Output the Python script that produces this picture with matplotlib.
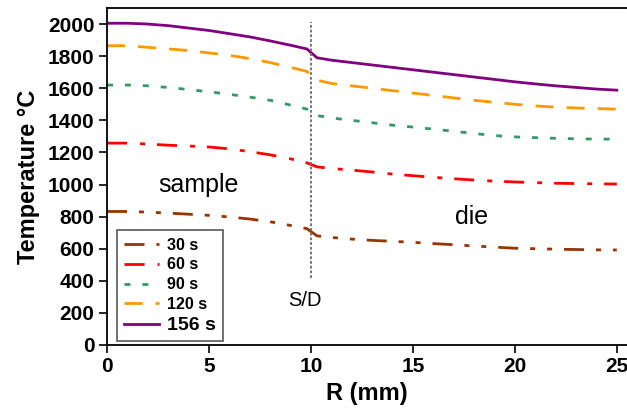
import matplotlib
matplotlib.use("Agg")
import matplotlib.pyplot as plt

plt.rcParams['font.family'] = ['Liberation Sans', 'DejaVu Sans']
plt.rcParams['lines.scale_dashes'] = False

R = [0, 1, 2, 3, 4, 5, 6, 7, 8, 9, 9.8, 10.3, 11, 12, 13, 14, 15, 16, 17, 18,
     19, 20, 21, 22, 23, 24, 25]
T30 = [832, 832, 828, 822, 815, 808, 798, 785, 768, 745, 725, 680, 670, 660,
       652, 646, 640, 632, 625, 617, 610, 603, 600, 597, 595, 593, 592]
T60 = [1258, 1258, 1252, 1245, 1240, 1234, 1222, 1205, 1185, 1160, 1135, 1110,
       1100, 1090, 1078, 1065, 1055, 1045, 1036, 1028, 1021, 1016, 1012, 1008,
       1006, 1004, 1003]
T90 = [1620, 1620, 1615, 1605, 1592, 1578, 1562, 1545, 1525, 1495, 1470, 1430,
       1415, 1400, 1385, 1370, 1358, 1345, 1332, 1318, 1305, 1297, 1292, 1288,
       1285, 1283, 1283]
T120 = [1865, 1865, 1855, 1845, 1835, 1820, 1805, 1785, 1760, 1730, 1705, 1650,
        1630, 1615, 1600, 1585, 1570, 1555, 1540, 1525, 1512, 1500, 1490, 1482,
        1477, 1473, 1470]
T156 = [2005, 2005, 2000, 1990, 1975, 1960, 1940, 1920, 1895, 1868, 1845, 1790,
        1775, 1760, 1745, 1730, 1715, 1700, 1685, 1670, 1655, 1640, 1627, 1615,
        1605, 1595, 1588]
labels = ["30 s", "60 s", "90 s", "120 s", "156 s"]
series = [T30, T60, T90, T120, T156]
colors = ["#993300", "#FF0000", "#339966", "#FF9900", "#800080"]
dashes = [(14.4, 8.6, 3.6, 8.6, 3.6, 8.6),
          (14.4, 9.4, 3.6, 8.6),
          (4.3, 8.6),
          (13, 9.4),
          None]
xticks = [0, 5, 10, 15, 20, 25]
yticks = list(range(0, 2001, 200))
interface_R = 10

fig = plt.figure(figsize=(6.27, 4.16), dpi=100)
ax = fig.add_axes([107 / 627, 1 - 345 / 416, 1 - 107 / 627, (345 - 8) / 416])

handles = []
for lab, ys, c, d in zip(labels, series, colors, dashes):
    if d is None:
        ln, = ax.plot(R, ys, color=c, lw=2.0, label=lab)
    else:
        ln, = ax.plot(R, ys, color=c, lw=2.0, label=lab, dashes=d)
    handles.append(ln)

ax.plot([interface_R, interface_R], [420, 2010], color="#777777", lw=1.4,
        dashes=(2.0, 1.4))

ax.set_xlim(0, 25.5)
ax.set_ylim(0, 2100)
ax.set_xticks(xticks)
ax.set_yticks(yticks)
ax.tick_params(direction='out', length=6, width=1.2, labelsize=15, pad=3)
for lbl in ax.get_xticklabels() + ax.get_yticklabels():
    lbl.set_fontweight('bold')
ax.set_xlabel("R (mm)", fontsize=17, fontweight='bold', labelpad=4)
ax.set_ylabel("Temperature °C", fontsize=17, fontweight='bold', labelpad=6)

for s in ['left', 'bottom', 'top']:
    ax.spines[s].set_linewidth(1.3)
    ax.spines[s].set_color('black')
ax.spines['right'].set_color('#cccccc')

ax.text(4.5, 1000, "sample", fontsize=18, ha='center', va='center')
ax.text(17.9, 800, "die", fontsize=18, ha='center', va='center')
ax.text(9.7, 275, "S/D", fontsize=14.5, ha='center', va='center')

leg = ax.legend(handles=handles, loc='lower left', bbox_to_anchor=(0.019, 0.012),
                borderaxespad=0, fancybox=False, edgecolor='#666666',
                framealpha=1, handlelength=2.2, handletextpad=0.5,
                labelspacing=0.3, borderpad=0.45,
                prop={'size': 11.5, 'weight': 'bold'})
leg.get_frame().set_linewidth(1.3)
leg.get_texts()[-1].set_fontsize(14)

fig.savefig("out.png", dpi=100)
